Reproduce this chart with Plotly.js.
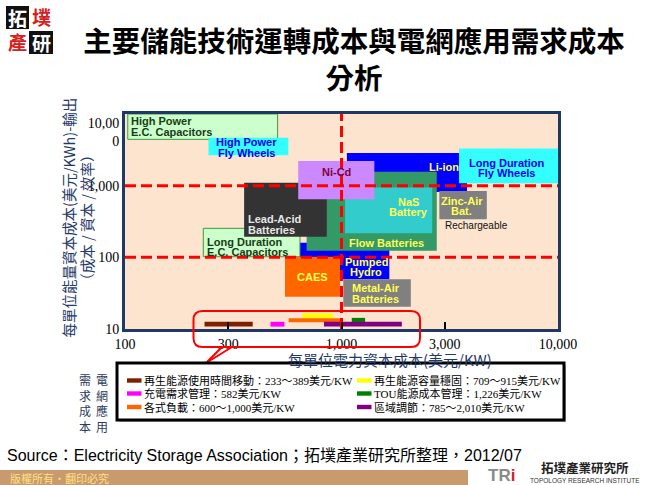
<!DOCTYPE html>
<html><head><meta charset="utf-8">
<script src="https://cdn.plot.ly/plotly-3.0.1.min.js"></script>
<style>html,body{margin:0;padding:0;background:#fff;} #chart{width:650px;height:485px;}</style>
</head><body><div id="chart"></div>
<script>
// ---------------- data ----------------
const xTickVals = [100, 300, 1000, 3000, 10000];
const xTickText = ['100', '300', '1,000', '3,000', '10,000'];
const yTickVals = [10, 100, 1000, 10000];
const yTickText = ['10', '100', '1,000', '<br><br>10,00<br>0'];

// technology boxes: power capital cost (US$/kW) range and energy capital cost (US$/kWh) range
const techNames = ['High Power E.C. Capacitors', 'High Power Fly Wheels', 'Pumped Hydro', 'Li-ion',
  'Long Duration Fly Wheels', 'Flow Batteries', 'NaS Battery', 'Long Duration E.C. Capacitors',
  'Lead-Acid Batteries', 'Ni-Cd', 'CAES', 'Metal-Air Batteries', 'Zinc-Air Bat.'];
const techPowerLow  = [103, 243, 643, 1059, 3490, 690, 1038, 230, 355, 631, 548, 1019, 2831];
const techPowerHigh = [507, 568, 1663, 3800, 10000, 2754, 2624, 643, 855, 1418, 984, 2090, 4690];
const techEnergyLow  = [4430, 2650, 49.3, 815, 1077, 124, 216, 102, 194, 644, 28.2, 20.5, 339];
const techEnergyHigh = [10000, 4660, 160, 2850, 3310, 1563, 946, 254, 1097, 2203, 102, 49.3, 841];

// grid application demand costs (bars near the bottom)
const demandNames = ['再生能源使用時間移動：233～389美元/KW', '再生能源容量穩固：709～915美元/KW',
  '充電需求管理：582美元/KW', 'TOU能源成本管理：1,226美元/KW',
  '各式負載：600～1,000美元/KW', '區域調節：785～2,010美元/KW'];
const demandLow  = [233, 660, 470, 1115, 570, 830];
const demandHigh = [389, 915, 545, 1285, 1015, 1900];
const demandYLow  = [10.8, 14.1, 10.8, 12.4, 12.4, 10.8];
const demandYHigh = [12.6, 16.6, 12.6, 14.3, 14.1, 12.6];

// reference lines
const refPower = [1000];
const refEnergy = [100, 1000];

// ---------------- styles ----------------
const techStyle = {
  'High Power E.C. Capacitors': {fill: '#CCFFCC', line: '#3C9A3C', lw: 1},
  'High Power Fly Wheels': {fill: '#33FFFF'},
  'Pumped Hydro': {fill: '#0000FF'},
  'Li-ion': {fill: '#0000FF'},
  'Long Duration Fly Wheels': {fill: '#33FFFF'},
  'Flow Batteries': {fill: '#339966'},
  'NaS Battery': {fill: '#33CCCC'},
  'Long Duration E.C. Capacitors': {fill: '#CCFFCC', line: '#3C9A3C', lw: 1},
  'Lead-Acid Batteries': {fill: '#333333'},
  'Ni-Cd': {fill: '#CC88FF'},
  'CAES': {fill: '#FF6600'},
  'Metal-Air Batteries': {fill: '#808080'},
  'Zinc-Air Bat.': {fill: '#808080'}
};
const demandColors = ['#7F1F00', '#FFFF00', '#FF00FF', '#008000', '#FF6600', '#800080'];

// plot frame in pixels
const L = 125, R = 558, T = 114, B = 329;
const X = p => (p - L) / (R - L);
const Y = p => (B - p) / (B - T);

const traces = [];
techNames.forEach((name, i) => {
  const s = techStyle[name];
  const lo = techPowerLow[i], hi = techPowerHigh[i], y0 = techEnergyLow[i], y1 = techEnergyHigh[i];
  traces.push({
    type: 'scatter', mode: 'lines', name: name,
    x: [lo, hi, hi, lo, lo], y: [y0, y0, y1, y1, y0],
    fill: 'toself', fillcolor: s.fill,
    line: {color: s.line || s.fill, width: s.lw || 0},
    hoverinfo: 'skip', showlegend: false
  });
});
demandNames.forEach((name, i) => {
  const lo = demandLow[i], hi = demandHigh[i], y0 = demandYLow[i], y1 = demandYHigh[i];
  traces.push({
    type: 'scatter', mode: 'lines', name: name,
    x: [lo, hi, hi, lo, lo], y: [y0, y0, y1, y1, y0],
    fill: 'toself', fillcolor: demandColors[i],
    line: {color: demandColors[i], width: 0},
    hoverinfo: 'skip', showlegend: false
  });
});
refPower.forEach(v => traces.push({type: 'scatter', mode: 'lines', x: [v, v], y: [10, 10000],
  line: {color: '#FF0000', width: 3, dash: '11px,5px'}, hoverinfo: 'skip', showlegend: false}));
refEnergy.forEach(v => traces.push({type: 'scatter', mode: 'lines', x: [100, 10000], y: [v, v],
  line: {color: '#FF0000', width: 3, dash: '11px,5px'}, hoverinfo: 'skip', showlegend: false}));

// ---------------- box labels ----------------
const boxLabels = [
  {lines: ['High Power', 'E.C. Capacitors'], px: 129, py: 121.3, a: 'left', c: '#163D16'},
  {lines: ['High Power', 'Fly Wheels'], px: 246.7, py: 142.3, a: 'center', c: '#0000EE'},
  {lines: ['Ni-Cd'], px: 336.7, py: 172.3, a: 'center', c: '#800040'},
  {lines: ['Li-ion'], px: 444.3, py: 166.7, a: 'center', c: '#FFFF55'},
  {lines: ['Long Duration', 'Fly Wheels'], px: 506.7, py: 162.7, a: 'center', c: '#0000EE'},
  {lines: ['NaS', 'Battery'], px: 408.3, py: 201.7, a: 'center', c: '#FFFF55'},
  {lines: ['Zinc-Air', 'Bat.'], px: 461.7, py: 200.5, a: 'center', c: '#FFFF55'},
  {lines: ['Lead-Acid', 'Batteries'], px: 246, py: 219.3, a: 'left', c: '#E6E6E6'},
  {lines: ['Long Duration', 'E.C. Capacitors'], px: 205.3, py: 241.7, a: 'left', c: '#163D16'},
  {lines: ['Flow Batteries'], px: 346.7, py: 242.7, a: 'left', c: '#FFFF55'},
  {lines: ['CAES'], px: 312.7, py: 277.3, a: 'center', c: '#FFFF55'},
  {lines: ['Pumped', 'Hydro'], px: 366, py: 261.7, a: 'center', c: '#FFFF55'},
  {lines: ['Metal-Air', 'Batteries'], px: 375.7, py: 288.3, a: 'center', c: '#FFFF55'}
];
const annotations = [];
boxLabels.forEach(b => b.lines.forEach((t, k) => annotations.push({
  xref: 'paper', yref: 'paper', x: X(b.px), y: Y(b.py + k * 10.3), text: t, showarrow: false,
  xanchor: b.a, yanchor: 'middle', align: b.a,
  font: {family: 'Liberation Sans, Arial, sans-serif', size: 11, color: b.c, weight: 700}
})));
annotations.push({xref: 'paper', yref: 'paper', x: X(442.7), y: Y(225.7), text: 'Rechargeable',
  showarrow: false, xanchor: 'left', yanchor: 'middle',
  font: {family: 'Liberation Sans, Arial, sans-serif', size: 10, color: '#111'}});

// axis titles placed where the original puts them
annotations.push({xref: 'paper', yref: 'paper', x: X(390), y: Y(359), text: '每單位電力資本成本(美元/KW)',
  showarrow: false, xanchor: 'center', yanchor: 'middle',
  font: {family: 'Noto Sans CJK TC, sans-serif', size: 15, color: '#1F3A68'}});
annotations.push({xref: 'paper', yref: 'paper', x: X(77.5), y: Y(218), textangle: -90,
  text: '每單位能量資本成本(美元/KWh)-輸出<br>（成本 / 資本 / 效率）',
  showarrow: false, xanchor: 'center', yanchor: 'middle',
  font: {family: 'Noto Sans CJK TC, sans-serif', size: 14.5, color: '#1F3A68'}});

// ---------------- decorations (shapes) ----------------
const shapes = [];
function rectPx(x0, y0, x1, y1, opts) {
  shapes.push(Object.assign({type: 'rect', xref: 'paper', yref: 'paper',
    x0: X(x0), x1: X(x1), y0: Y(y1), y1: Y(y0), layer: 'above'}, opts));
}
function roundRectPath(x0, y0, x1, y1, r) {
  const pts = (px, py) => X(px) + ',' + Y(py);
  return 'M' + pts(x0 + r, y0) + ' L' + pts(x1 - r, y0) + ' Q' + pts(x1, y0) + ' ' + pts(x1, y0 + r) +
    ' L' + pts(x1, y1 - r) + ' Q' + pts(x1, y1) + ' ' + pts(x1 - r, y1) +
    ' L' + pts(x0 + r, y1) + ' Q' + pts(x0, y1) + ' ' + pts(x0, y1 - r) +
    ' L' + pts(x0, y0 + r) + ' Q' + pts(x0, y0) + ' ' + pts(x0 + r, y0) + ' Z';
}
// red callout around the demand bars
shapes.push({type: 'path', xref: 'paper', yref: 'paper', layer: 'above',
  path: roundRectPath(193.5, 311, 420, 347, 9), line: {color: '#FF0000', width: 2}});
shapes.push({type: 'path', xref: 'paper', yref: 'paper', layer: 'above',
  path: 'M' + X(232) + ',' + Y(347) + ' L' + X(206) + ',' + Y(363) + ' L' + X(222) + ',' + Y(347),
  line: {color: '#FF0000', width: 2}});
// legend box
rectPx(119, 365, 566, 422, {fillcolor: '#BBBBBB', line: {width: 0}});
rectPx(117, 363, 564, 420, {fillcolor: '#FFFFFF', line: {color: '#000', width: 3}});
demandNames.forEach((name, i) => {
  const col = i % 2, row = Math.floor(i / 2);
  const sx = col === 0 ? 127 : 357, tx = col === 0 ? 141.5 : 371.5;
  const ry = [380.5, 393.5, 407][row];
  rectPx(sx, ry - 2.2, sx + 14.5, ry + 2.2, {fillcolor: demandColors[i], line: {width: 0}});
  annotations.push({xref: 'paper', yref: 'paper', x: X(tx), y: Y(ry), text: name, showarrow: false,
    xanchor: 'left', yanchor: 'middle',
    font: {family: 'Liberation Serif, Noto Sans CJK TC, serif', size: 11, color: '#000'}});
});
// vertical caption 電網應用 / 需求成本 (one column of stacked characters each)
[['需求成本', 85], ['電網應用', 101.5]].forEach(col => annotations.push({xref: 'paper', yref: 'paper',
  x: X(col[1]), y: Y(402.5), text: col[0].split('').join('<br>'), showarrow: false,
  xanchor: 'center', yanchor: 'middle', align: 'center',
  font: {family: 'Noto Sans CJK TC, sans-serif', size: 12, color: '#2B3A5C'}}));
// logo top-left
rectPx(6, 6, 29, 29, {fillcolor: '#111', line: {width: 0}});
rectPx(29, 31, 53, 54, {fillcolor: '#111', line: {width: 0}});
[['拓', 17.5, 17.5, '#FFFFFF'], ['墣', 41, 16, '#D42020'], ['產', 17.5, 42, '#D42020'], ['研', 41, 42.5, '#FFFFFF']]
  .forEach(l => annotations.push({xref: 'paper', yref: 'paper', x: X(l[1]), y: Y(l[2]), text: l[0],
    showarrow: false, xanchor: 'center', yanchor: 'middle',
    font: {family: 'Noto Sans CJK TC, sans-serif', size: 19, color: l[3], weight: 700}}));
// source line
annotations.push({xref: 'paper', yref: 'paper', x: X(5), y: Y(455),
  text: 'Source：Electricity Storage Association；拓墣產業研究所整理，2012/07', showarrow: false,
  xanchor: 'left', yanchor: 'middle',
  font: {family: 'Liberation Sans, Noto Sans CJK TC, sans-serif', size: 16, color: '#000'}});
// footer band
rectPx(0, 470, 468, 486, {fillcolor: '#C89A6E', line: {width: 0}});
annotations.push({xref: 'paper', yref: 'paper', x: X(8), y: Y(477.5), text: '版權所有・翻印必究',
  showarrow: false, xanchor: 'left', yanchor: 'middle',
  font: {family: 'Noto Sans CJK TC, sans-serif', size: 11, color: '#FFE080'}});
annotations.push({xref: 'paper', yref: 'paper', x: X(501), y: Y(475),
  text: "TR<span style='color:#D42020'>i</span>", showarrow: false, xanchor: 'center', yanchor: 'middle',
  font: {family: 'Liberation Sans, sans-serif', size: 17, color: '#8A8A8A', weight: 700}});
annotations.push({xref: 'paper', yref: 'paper', x: X(585), y: Y(467), text: '拓墣產業研究所',
  showarrow: false, xanchor: 'center', yanchor: 'middle',
  font: {family: 'Noto Sans CJK TC, sans-serif', size: 12.5, color: '#222', weight: 700}});
annotations.push({xref: 'paper', yref: 'paper', x: X(585), y: Y(480.5), text: 'TOPOLOGY RESEARCH INSTITUTE',
  showarrow: false, xanchor: 'center', yanchor: 'middle',
  font: {family: 'Liberation Sans, sans-serif', size: 6.5, color: '#333'}});

const layout = {
  width: 650, height: 485,
  margin: {l: 125, r: 92, t: 114, b: 156, pad: 0},
  paper_bgcolor: '#FFFFFF', plot_bgcolor: '#FCE4CE',
  showlegend: false,
  title: {text: '主要儲能技術運轉成本與電網應用需求成本<br>分析',
    font: {family: 'Noto Sans CJK TC, sans-serif', size: 28.5, color: '#000', weight: 700},
    x: 354 / 650, xanchor: 'center', y: 1 - 52 / 485, yanchor: 'top'},
  xaxis: {type: 'log', range: [2, 4], tickvals: xTickVals, ticktext: xTickText,
    ticks: 'inside', ticklen: 7, tickwidth: 2, tickcolor: '#000',
    showgrid: false, zeroline: false, showline: true, linecolor: '#1F3864', linewidth: 3, mirror: true,
    tickfont: {family: 'Liberation Serif, serif', size: 14, color: '#000'}, fixedrange: true},
  yaxis: {type: 'log', range: [1, 4], tickvals: yTickVals, ticktext: yTickText, ticks: '',
    showgrid: false, zeroline: false, showline: true, linecolor: '#1F3864', linewidth: 3, mirror: true,
    tickfont: {family: 'Liberation Serif, serif', size: 14, color: '#000'}, fixedrange: true},
  shapes: shapes,
  annotations: annotations
};
Plotly.newPlot('chart', traces, layout, {displayModeBar: false, staticPlot: true});
</script></body></html>
